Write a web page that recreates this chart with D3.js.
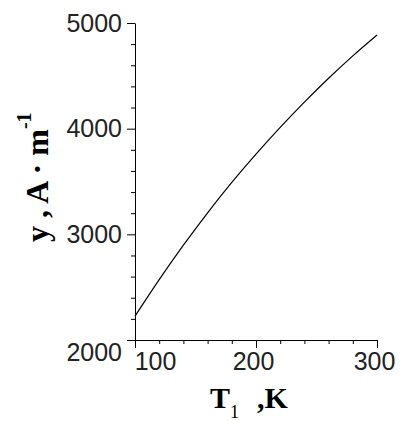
<!DOCTYPE html>
<html>
<head>
<meta charset="utf-8">
<script src="https://cdn.jsdelivr.net/npm/d3@7"></script>
<style>
  html, body { margin: 0; padding: 0; background: #fff; }
  svg { display: block; }
</style>
</head>
<body>
<svg id="chart" width="400" height="421"></svg>
<script>
// Temperature T1 (K) and y (A·m^-1)
const temperature = [100, 120, 140, 160, 180, 200, 220, 240, 260, 280, 300];
const yValues     = [2225, 2571, 2897, 3204, 3491, 3759, 4012, 4251, 4477, 4689, 4887];

// Axis ticks
const xMajorTicks = [100, 200, 300];
const xMinorTicks = [120, 140, 160, 180, 220, 240, 260, 280];
const yMajorTicks = [2000, 3000, 4000, 5000];
const yMinorTicks = [2200, 2400, 2600, 2800, 3200, 3400, 3600, 3800, 4200, 4400, 4600, 4800];

const svg = d3.select("#chart");

const x = d3.scaleLinear().domain([100, 300]).range([135, 377]);
const y = d3.scaleLinear().domain([2000, 5000]).range([340, 23]);

const tickFont = "'Liberation Sans', Arial, sans-serif";
const titleFont = "'Liberation Serif', 'Times New Roman', serif";

// ---- y axis ----
const yAxisG = svg.append("g").attr("transform", `translate(${x(100)},0)`);
yAxisG.call(d3.axisLeft(y).tickValues(yMajorTicks).tickSize(8).tickPadding(5)
  .tickSizeOuter(0).tickFormat(d3.format("d")));
yAxisG.append("g").call(d3.axisLeft(y).tickValues(yMinorTicks).tickSize(4)
  .tickSizeOuter(0).tickFormat(""));
yAxisG.selectAll("g > .domain").filter((d, i) => i > 0).remove();

// ---- x axis ----
const xAxisG = svg.append("g").attr("transform", `translate(0,${y(2000)})`);
xAxisG.call(d3.axisBottom(x).tickValues(xMajorTicks).tickSize(8).tickPadding(4)
  .tickSizeOuter(0).tickFormat(d3.format("d")));
xAxisG.append("g").call(d3.axisBottom(x).tickValues(xMinorTicks).tickSize(4)
  .tickSizeOuter(0).tickFormat(""));

svg.selectAll(".domain").attr("stroke", "#000").attr("stroke-width", 1);
svg.selectAll(".tick line").attr("stroke", "#000").attr("stroke-width", 1);
svg.selectAll(".tick text")
  .attr("font-family", tickFont)
  .attr("font-size", 25)
  .attr("fill", "#222");

// nudge the labels at the corner away from the other axis
yAxisG.selectAll(".tick text").filter(d => d === 2000).attr("dy", "0.8em");
xAxisG.selectAll(".tick text").attr("dx", d => d === 100 ? 20 : -3);

// ---- curve ----
const line = d3.line()
  .x((d, i) => x(temperature[i]))
  .y(d => y(d))
  .curve(d3.curveMonotoneX);

svg.append("path")
  .datum(yValues)
  .attr("d", line)
  .attr("fill", "none")
  .attr("stroke", "#000")
  .attr("stroke-width", 1.2);

// ---- axis titles ----
const yTitle = svg.append("text")
  .attr("transform", "translate(48,242) rotate(-90)")
  .attr("font-family", titleFont)
  .attr("font-weight", "bold")
  .attr("font-size", 32)
  .attr("fill", "#000");
yTitle.append("tspan").text("y , A · m");
yTitle.append("tspan").attr("font-size", 20).attr("dy", -17).text("-1");

const xTitle = svg.append("text")
  .attr("x", 210).attr("y", 408)
  .attr("font-family", titleFont)
  .attr("font-weight", "bold")
  .attr("font-size", 30)
  .attr("fill", "#000");
xTitle.append("tspan").text("T");
xTitle.append("tspan").attr("font-size", 18).attr("font-weight", "normal").attr("dy", 10).text("1");
xTitle.append("tspan").attr("dy", -10).attr("dx", 18).text(",K");
</script>
</body>
</html>
